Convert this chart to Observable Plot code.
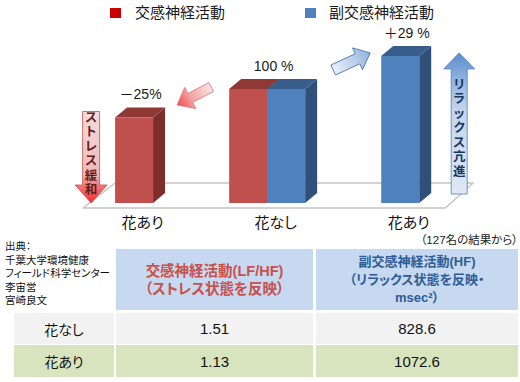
<!DOCTYPE html>
<html><head><meta charset="utf-8">
<script src="https://cdn.jsdelivr.net/npm/d3@7"></script>
<script src="https://cdn.jsdelivr.net/npm/@observablehq/plot@0.6"></script>
<style>
html,body{margin:0;padding:0;background:#fff;}
body{width:520px;height:382px;position:relative;overflow:hidden;font-family:"Liberation Sans","Noto Sans CJK JP",sans-serif;font-feature-settings:"palt";color:#111;}
.abs{position:absolute;white-space:nowrap;}
#chart svg{font-family:"Liberation Sans","Noto Sans CJK JP",sans-serif;overflow:visible;}
svg text{font-feature-settings:"palt";}
.cell{position:absolute;display:flex;flex-direction:column;align-items:center;justify-content:center;text-align:center;}
</style></head><body>
<div id="legend"></div>
<div id="chart" class="abs" style="left:0;top:26px;"></div>
<div id="table"></div>
<script>
// ---- data ----
const groupLabels = ["花あり", "花なし", "花あり"];
const seriesNames = ["交感神経活動", "副交感神経活動"];
const sympatheticValues = [75, 100, null];
const parasympatheticValues = [null, 100, 129];
const changeLabels = ["－25%", "100 %", "＋29 %"];
const stressLabel = "ストレス緩和";
const relaxLabel = "リラックス亢進";
const sampleNote = "（127名の結果から）";
const sourceLines = ["出典：", "千葉大学環境健康", "フィールド科学センター", "李宙営", "宮崎良文"];
const headerLF = ["交感神経活動(LF/HF)", "（ストレス状態を反映）"];
const headerHF = ["副交感神経活動(HF)", "（リラックス状態を反映・", "msec²）"];
const rowLabels = ["花なし", "花あり"];
const lfhfValues = ["1.51", "1.13"];
const hfValues = ["828.6", "1072.6"];

// ---- styles ----
const face = {
  front: ["#c0504d", "#4f81bd"],
  side: ["#7d2e2c", "#30507a"],
  top: ["#8f3836", "#385d8a"],
  legend: ["#c80000", "#4f81bd"]
};
const BW = 0.2855;  // bar width (x units)
const DX = 0.09;    // depth x (x units)
const DY = 8.8;     // depth y (y units)

// ---- legend ----
const legend = document.getElementById("legend");
[[110, 135], [305, 329]].forEach(([sx, tx], s) => {
  const sq = document.createElement("div");
  sq.className = "abs";
  sq.style.cssText = `left:${sx}px;top:8px;width:11px;height:10px;background:${face.legend[s]}`;
  legend.appendChild(sq);
  const t = document.createElement("div");
  t.className = "abs";
  t.style.cssText = `left:${tx}px;top:2px;font-size:15px;line-height:22px;color:#1a1a1a`;
  t.textContent = seriesNames[s];
  legend.appendChild(t);
});

// ---- bars ----
const bars = [];
groupLabels.forEach((g, i) => {
  const vals = [sympatheticValues[i], parasympatheticValues[i]];
  const present = [0, 1].filter(s => vals[s] != null);
  present.forEach((s, k) => {
    const x1 = i - present.length * BW / 2 + k * BW;
    bars.push({id: i + "-" + s, i, s, x1, x2: x1 + BW, value: vals[s]});
  });
});
const sidePts = bs => bs.flatMap(b => [
  {id: b.id, x: b.x2, y1: 0, y2: b.value},
  {id: b.id, x: b.x2 + DX, y1: DY, y2: b.value + DY}
]);
const topPts = bs => bs.flatMap(b => [
  {id: b.id, y: b.value, x1: b.x1, x2: b.x2},
  {id: b.id, y: b.value + DY, x1: b.x1 + DX, x2: b.x2 + DX}
]);
const labelRows = groupLabels.map((g, i) => ({
  i, t: changeLabels[i],
  v: Math.max(sympatheticValues[i] ?? 0, parasympatheticValues[i] ?? 0)
}));

const NS = "http://www.w3.org/2000/svg";
function el(tag, attrs, parent) {
  const e = document.createElementNS(NS, tag);
  for (const k in attrs) e.setAttribute(k, attrs[k]);
  if (parent) parent.appendChild(e);
  return e;
}
function blockArrow(tx, ty, px, py, sw, hw, hl) {
  const L = Math.hypot(px - tx, py - ty), ux = (px - tx) / L, uy = (py - ty) / L, nx = -uy, ny = ux;
  const bx = px - ux * hl, by = py - uy * hl;
  const pts = [[tx + nx * sw / 2, ty + ny * sw / 2], [bx + nx * sw / 2, by + ny * sw / 2], [bx + nx * hw / 2, by + ny * hw / 2],
    [px, py], [bx - nx * hw / 2, by - ny * hw / 2], [bx - nx * sw / 2, by - ny * sw / 2], [tx - nx * sw / 2, ty - ny * sw / 2]];
  return "M" + pts.map(p => p[0].toFixed(1) + "," + p[1].toFixed(1)).join("L") + "Z";
}
function gradient(defs, id, t, p, stops) {
  const lg = el("linearGradient", {id, gradientUnits: "userSpaceOnUse", x1: t[0], y1: t[1], x2: p[0], y2: p[1]}, defs);
  stops.forEach(([o, c]) => el("stop", {offset: o, "stop-color": c}, lg));
}

function floorMark(index, scales) {
  const {x, y} = scales;
  const g = el("g", {});
  const yb = y(0), x0 = x(0), x2 = x(2);
  const d = `M${x0 - 51},${yb + 5}L${x0 - 19},${yb - 20}L${x2 + 73},${yb - 20}L${x2 + 45},${yb + 5}Z`;
  el("path", {d, fill: "#fff", stroke: "#c4c4c4", "stroke-width": 1.4, "stroke-linejoin": "round"}, g);
  return g;
}

function arrowsMark(index, scales) {
  const {x, y} = scales;
  const g = el("g", {});
  const defs = el("defs", {}, g);
  const x0 = x(0), x1 = x(1), x2 = x(2), yb = y(0);
  // diagonal arrows
  const pT = [x1 - 56, y(100) - 2], pP = [x0 + 43, y(sympatheticValues[0]) - 12.5];
  gradient(defs, "gPinkD", pT, pP, [[0, "#fbe3e3"], [0.6, "#f4a0a0"], [1, "#ee4a4a"]]);
  el("path", {d: blockArrow(...pT, ...pP, 10, 24, 15), fill: "url(#gPinkD)", stroke: "#e47a7a", "stroke-width": 0.9}, g);
  const bT = [x1 + 66, y(100) - 19], bP = [x2 - 30, y(parasympatheticValues[2]) - 3];
  gradient(defs, "gBlueD", bT, bP, [[0, "#eaf0f8"], [1, "#93b3dc"]]);
  el("path", {d: blockArrow(...bT, ...bP, 11, 24, 14), fill: "url(#gBlueD)", stroke: "#4a74aa", "stroke-width": 0.9}, g);
  // vertical pink arrow
  const sx = x0 - 43, sT = [sx, y(sympatheticValues[0]) - 6], sP = [sx, yb];
  gradient(defs, "gPinkV", sT, sP, [[0, "#f4dcdc"], [0.7, "#f0b8b8"], [0.8, "#f27a7a"], [1, "#ff2a2a"]]);
  el("path", {d: blockArrow(...sT, ...sP, 17, 32, 18), fill: "url(#gPinkV)", stroke: "#c0504d", "stroke-width": 0.8}, g);
  const st = el("text", {"text-anchor": "middle", "font-size": 12.5, "font-weight": "bold", fill: "#5e2120"}, g);
  [...stressLabel].forEach((c, k) => {
    const ts = el("tspan", {x: sx, y: sT[1] + 6.5 + k * 14.4, "dominant-baseline": "central"}, st);
    ts.textContent = c;
  });
  // vertical blue arrow
  const rx = x2 + 59, rT = [rx, yb - 9], rP = [rx, y(parasympatheticValues[2]) - 3];
  gradient(defs, "gBlueV", rT, rP, [[0, "#dfe8f4"], [0.6, "#c3d5ee"], [0.82, "#8fb1de"], [1, "#5b8cd0"]]);
  el("path", {d: blockArrow(...rT, ...rP, 16, 31, 16), fill: "url(#gBlueV)", stroke: "#4f7fbb", "stroke-width": 0.8}, g);
  const rt = el("text", {"text-anchor": "middle", "font-size": 12.5, "font-weight": "bold", fill: "#17375e"}, g);
  [...relaxLabel].forEach((c, k) => {
    const ts = el("tspan", {x: rx, y: rP[1] + 32 + k * 14.5, "dominant-baseline": "central"}, rt);
    ts.textContent = c;
  });
  return g;
}

const seriesMarks = [0, 1].flatMap(s => {
  const bs = bars.filter(b => b.s === s);
  return [
    Plot.areaY(sidePts(bs), {x: "x", y1: "y1", y2: "y2", z: "id", fill: face.side[s]}),
    Plot.areaX(topPts(bs), {y: "y", x1: "x1", x2: "x2", z: "id", fill: face.top[s]}),
    Plot.rect(bs, {x1: "x1", x2: "x2", y1: 0, y2: "value", fill: face.front[s]})
  ];
});

const chart = Plot.plot({
  width: 520,
  height: 210,
  marginTop: 6,
  marginBottom: 33,
  marginLeft: 1,
  marginRight: 0,
  x: {domain: [-1, 2.9], axis: null},
  y: {domain: [0, 150], axis: null},
  marks: [
    floorMark,
    ...seriesMarks,
    arrowsMark,
    Plot.text(labelRows, {x: "i", y: "v", text: "t", dx: 6, dy: -23, fontSize: 14, fill: "#1a1a1a"}),
    Plot.axisX({ticks: [0, 1, 2], tickFormat: i => groupLabels[i], tickSize: 0, tickPadding: 14, dx: 8, fontSize: 15, fill: "#111", label: null})
  ]
});
document.getElementById("chart").appendChild(chart);

// ---- table ----
const table = document.getElementById("table");
function div(css, html, cls) {
  const d = document.createElement("div");
  d.className = cls || "abs";
  d.style.cssText = css;
  if (html != null) d.innerHTML = html;
  table.appendChild(d);
  return d;
}
div("right:2px;top:233px;font-size:11.5px;line-height:15px;color:#1a1a1a", sampleNote);
div("left:5px;top:240px;font-size:10.5px;line-height:13.6px;color:#111", sourceLines.join("<br>"));
div("left:116px;top:249px;width:197px;height:61px;background:#c6d9f1;color:#c9504c;font-weight:bold;font-size:14.5px;line-height:18px", headerLF.join("<br>"), "cell");
div("left:316px;top:249px;width:202px;height:61px;background:#c6d9f1;color:#2e5d95;font-weight:bold;font-size:13px;line-height:18px", headerHF.join("<br>"), "cell");
const rowTops = [313, 345], rowHeights = [31, 32], rowBg = ["#f2f2f2", "#d8e4bd"];
rowLabels.forEach((r, k) => {
  const t = rowTops[k], h = rowHeights[k], bg = rowBg[k];
  div(`left:14px;top:${t}px;width:100px;height:${h}px;background:${bg};font-size:14px`, r, "cell");
  div(`left:116px;top:${t}px;width:197px;height:${h}px;background:${bg};font-size:15px`, lfhfValues[k], "cell");
  div(`left:316px;top:${t}px;width:202px;height:${h}px;background:${bg};font-size:15px`, hfValues[k], "cell");
});
</script></body></html>
